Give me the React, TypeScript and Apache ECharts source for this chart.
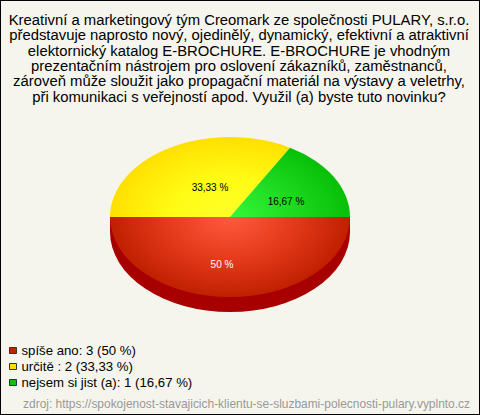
import React, { useEffect, useRef } from "react";
import * as echarts from "echarts";

const categories = ["spíše ano", "určitě ", "nejsem si jist (a)"];
const values = [3, 2, 1];
const percentLabels = ["50 %", "33,33 %", "16,67 %"];
const legendPercents = ["50 %", "33,33 %", "16,67 %"];
const titleLines = [
  "Kreativní a marketingový tým Creomark ze společnosti PULARY, s.r.o.",
  "představuje naprosto nový, ojedinělý, dynamický, efektivní a atraktivní",
  "elektornický katalog E-BROCHURE. E-BROCHURE je vhodným",
  "prezentačním nástrojem pro oslovení zákazníků, zaměstnanců,",
  "zároveň může sloužit jako propagační materiál na výstavy a veletrhy,",
  "při komunikaci s veřejností apod. Využil (a) byste tuto novinku?",
];
const sourceText = "zdroj: https://spokojenost-stavajicich-klientu-se-sluzbami-polecnosti-pulary.vyplnto.cz";

const swatchColors = ["#c42000", "#ffdd00", "#0fbf0f"];
const gradientStops = [
  ["#ff5a3c", "#e63c1e", "#c02000"],
  ["#ffff28", "#fffb14", "#ffe000"],
  ["#36f83a", "#1fdc22", "#08bf08"],
];
const labelColors = ["#ffffff", "#000000", "#000000"];
const labelOffsets = [
  [-8, 47],
  [-20, -30],
  [56, -16],
];

const CX = 230;
const CY = 217;
const RX = 120;
const RY = 80;
const DEPTH = 15;
const START_ANGLE = 0;

export default function App() {
  const ref = useRef<HTMLDivElement>(null);

  useEffect(() => {
    document.body.style.margin = "0";
    const chart = echarts.init(ref.current!, null, { renderer: "svg" });
    const total = values.reduce((a, b) => a + b, 0);
    const font = "'Liberation Sans', Arial, sans-serif";

    const series = categories.map((name, i) => {
      const before = values.slice(0, i).reduce((a, b) => a + b, 0);
      const a0 = START_ANGLE + (before / total) * Math.PI * 2;
      const a1 = a0 + (values[i] / total) * Math.PI * 2;
      return {
        type: "custom",
        name,
        coordinateSystem: "none",
        silent: true,
        z: 2,
        data: [values[i]],
        itemStyle: { color: swatchColors[i] },
        renderItem: () => {
          const scaleY = RY / RX;
          const children: any[] = [];
          if (a0 < Math.PI) {
            const end = Math.min(a1, Math.PI);
            children.push({
              type: "rect",
              shape: { x: CX - RX, y: CY, width: RX * 2, height: DEPTH },
              style: { fill: "#a80000" },
            });
            children.push({
              type: "sector",
              x: CX,
              y: CY + DEPTH,
              scaleY,
              shape: { cx: 0, cy: 0, r0: 0, r: RX, startAngle: a0, endAngle: end, clockwise: true },
              style: { fill: "#a80000" },
            });
          }
          children.push({
            type: "sector",
            x: CX,
            y: CY,
            scaleY,
            shape: { cx: 0, cy: 0, r0: 0, r: RX, startAngle: a0, endAngle: a1, clockwise: true },
            style: {
              fill: new echarts.graphic.RadialGradient(
                0,
                0,
                RX,
                [
                  { offset: 0, color: gradientStops[i][0] },
                  { offset: 0.5, color: gradientStops[i][1] },
                  { offset: 1, color: gradientStops[i][2] },
                ],
                true
              ),
            },
          });
          children.push({
            type: "text",
            z2: 10,
            x: CX + labelOffsets[i][0],
            y: CY + labelOffsets[i][1],
            style: {
              text: percentLabels[i],
              fill: labelColors[i],
              font: `10px ${font}`,
              textAlign: "center",
              textVerticalAlign: "middle",
            },
          });
          return { type: "group", children };
        },
      };
    });

    chart.setOption({
      animation: false,
      backgroundColor: "#f5f5ee",
      title: {
        text: titleLines.join("\n"),
        left: 239,
        top: 12,
        padding: 0,
        textAlign: "center",
        textStyle: { fontFamily: font, fontSize: 14.85, fontWeight: "normal", color: "#000", lineHeight: 15.4 },
      },
      legend: {
        orient: "vertical",
        left: 9,
        top: 344,
        padding: 0,
        itemWidth: 7,
        itemHeight: 6,
        itemGap: 3,
        itemTextGap: 3,
        icon: "rect",
        selectedMode: false,
        data: categories,
        formatter: (name: string) => {
          const i = categories.indexOf(name);
          return `${name}: ${values[i]} (${legendPercents[i]})`;
        },
        itemStyle: { borderColor: "#333", borderWidth: 1 },
        textStyle: { fontFamily: font, fontSize: 13.2, color: "#000" },
      },
      graphic: [
        {
          type: "text",
          right: 10,
          top: 398,
          style: { text: sourceText, fill: "#999", font: `11.95px ${font}` },
        },
      ],
      series,
    });
    return () => chart.dispose();
  }, []);

  return (
    <div style={{ width: 480, height: 415, position: "relative" }}>
      <div ref={ref} style={{ position: "absolute", left: 0, top: 0, width: 480, height: 415 }} />
      <div style={{ position: "absolute", left: 0, top: 0, width: 480, height: 415, boxSizing: "border-box", border: "1px solid #000", pointerEvents: "none" }} />
    </div>
  );
}
